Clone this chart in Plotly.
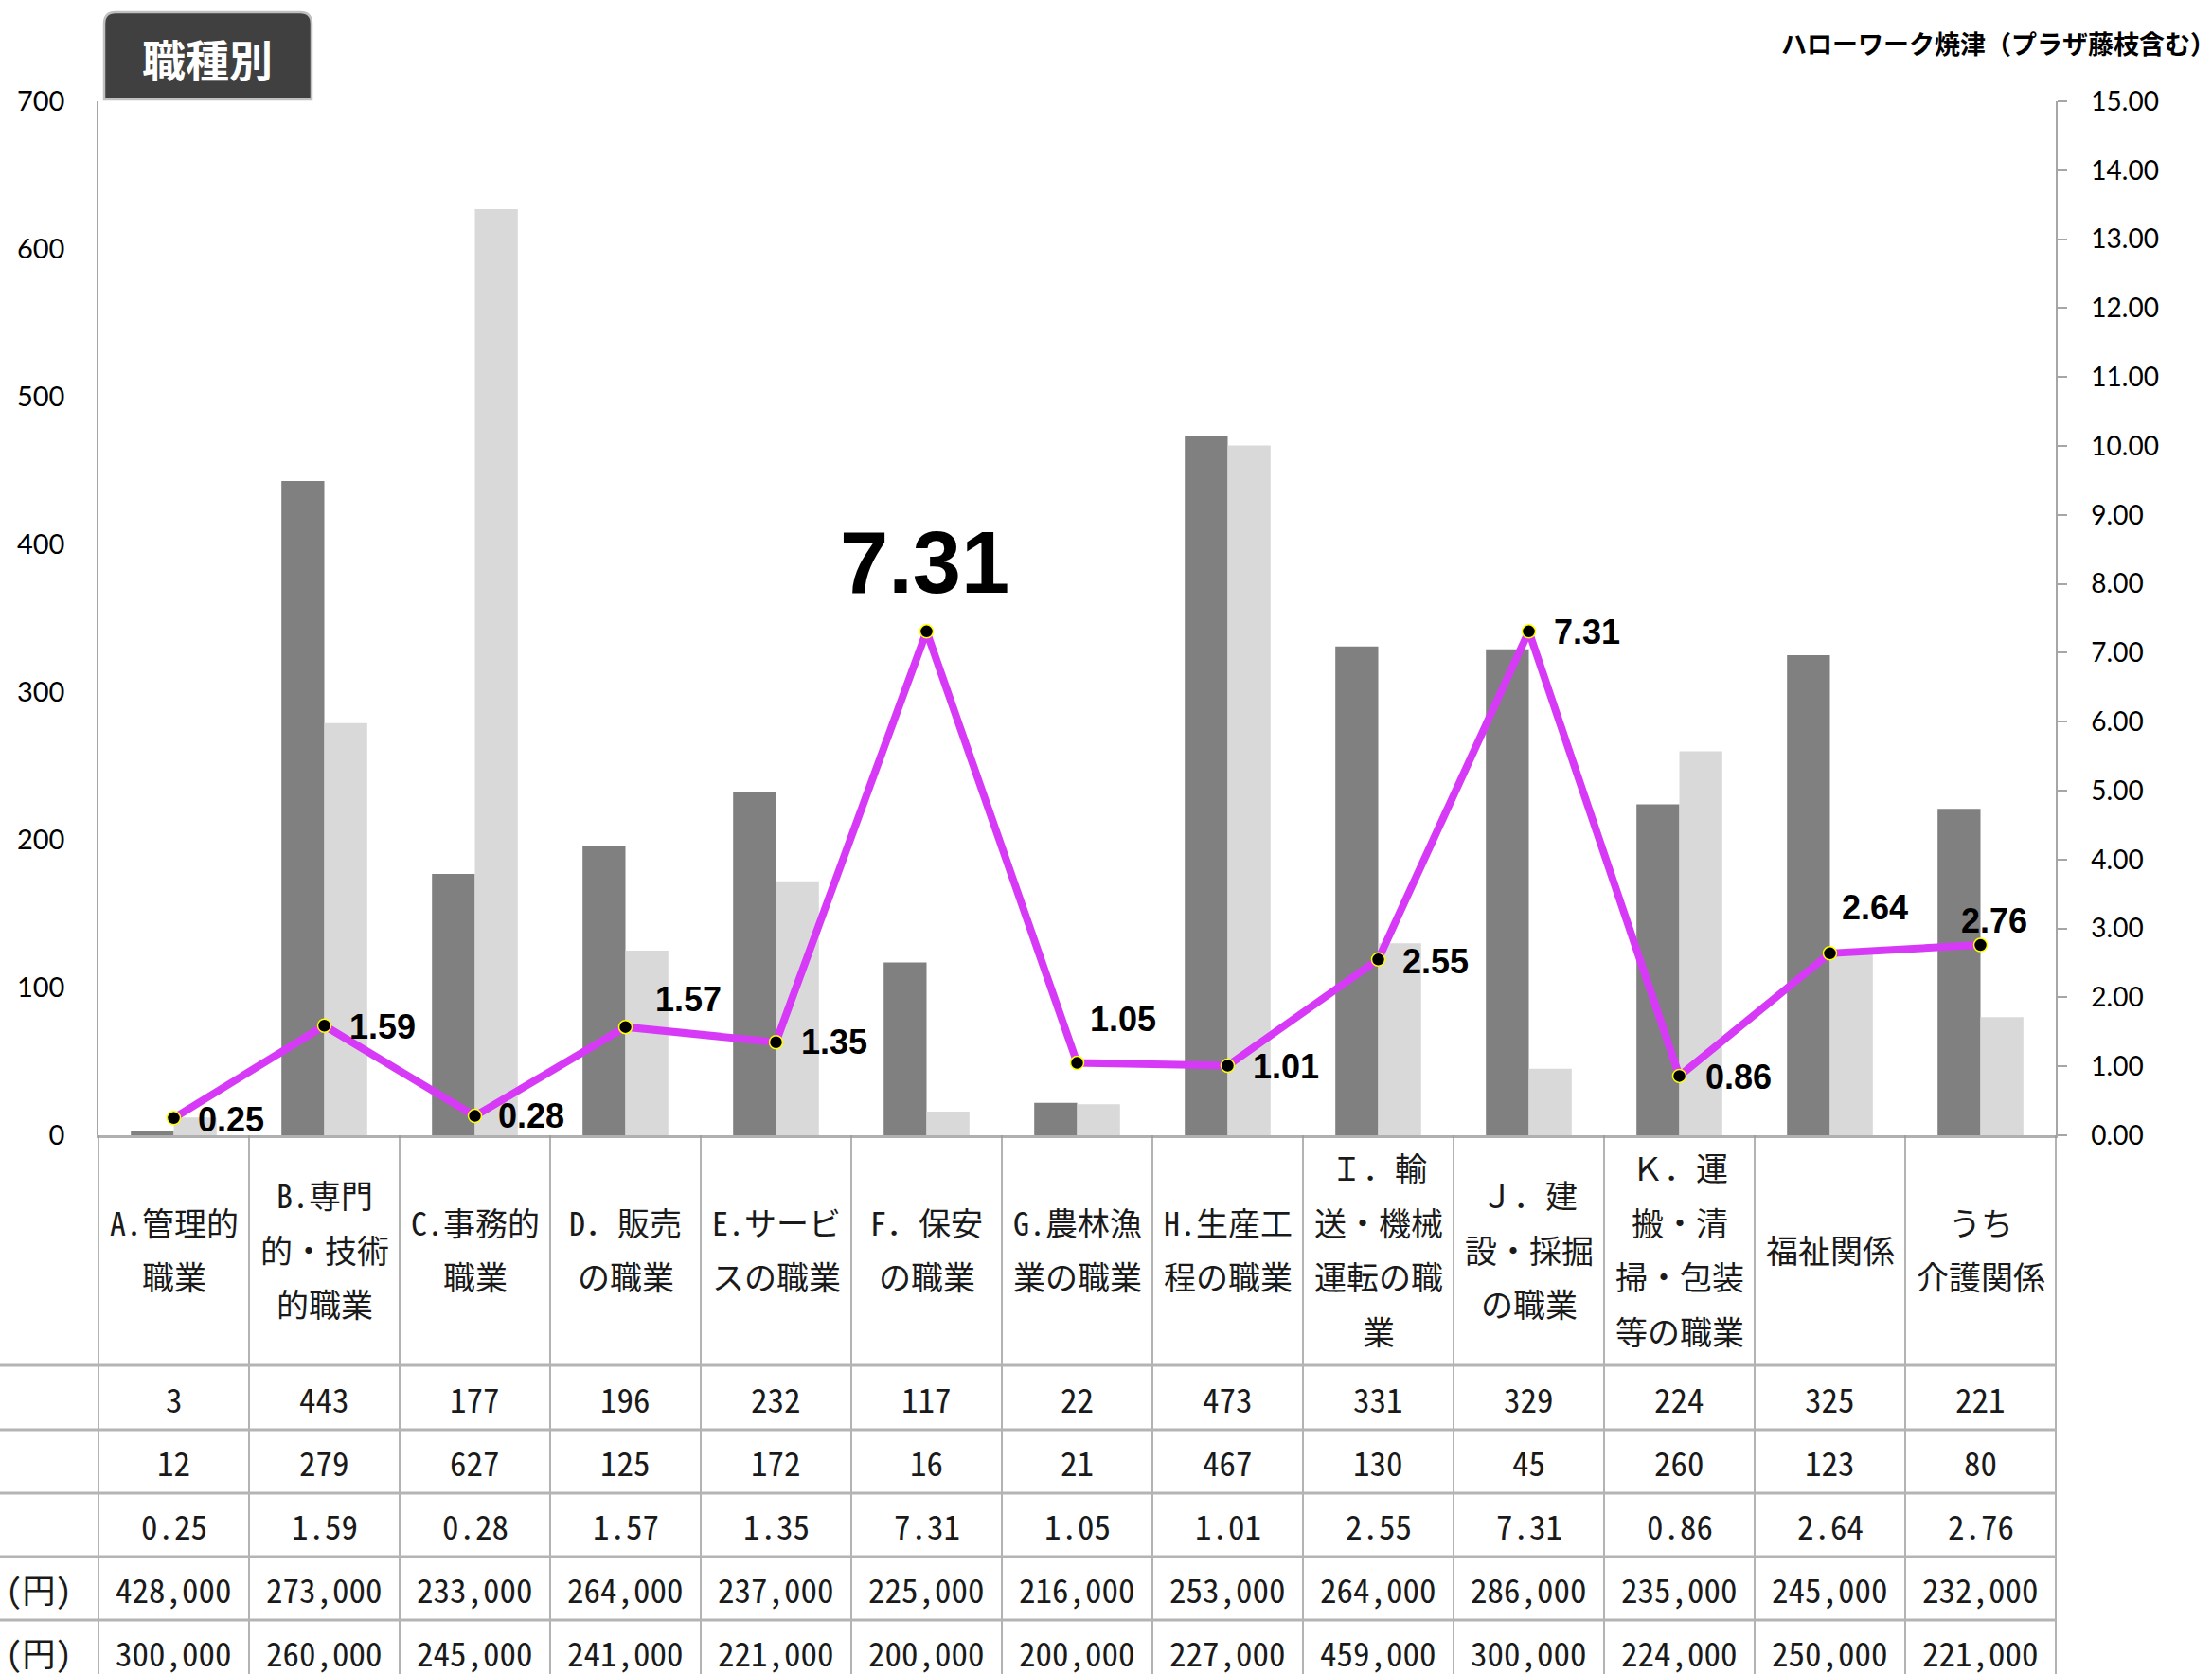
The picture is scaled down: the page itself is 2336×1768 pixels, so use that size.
import plotly.graph_objects as go

# ---------------- data ----------------
categories = ["A.管理的職業", "B.専門的・技術的職業", "C.事務的職業", "D．販売の職業",
              "E.サービスの職業", "F．保安の職業", "G.農林漁業の職業", "H.生産工程の職業",
              "Ｉ．輸送・機械運転の職業", "Ｊ．建設・採掘の職業", "Ｋ．運搬・清掃・包装等の職業",
              "福祉関係", "うち介護関係"]
header_lines = [["A.管理的", "職業"], ["B.専門", "的・技術", "的職業"], ["C.事務的", "職業"],
                ["D．販売", "の職業"], ["E.サービ", "スの職業"], ["F．保安", "の職業"],
                ["G.農林漁", "業の職業"], ["H.生産工", "程の職業"],
                ["Ｉ．輸", "送・機械", "運転の職", "業"], ["Ｊ．建", "設・採掘", "の職業"],
                ["Ｋ．運", "搬・清", "掃・包装", "等の職業"], ["福祉関係"], ["うち", "介護関係"]]
job_offers = [3, 443, 177, 196, 232, 117, 22, 473, 331, 329, 224, 325, 221]
job_seekers = [12, 279, 627, 125, 172, 16, 21, 467, 130, 45, 260, 123, 80]
ratio = [0.25, 1.59, 0.28, 1.57, 1.35, 7.31, 1.05, 1.01, 2.55, 7.31, 0.86, 2.64, 2.76]
wage_offer = [428000, 273000, 233000, 264000, 237000, 225000, 216000, 253000, 264000,
              286000, 235000, 245000, 232000]
wage_seek = [300000, 260000, 245000, 241000, 221000, 200000, 200000, 227000, 459000,
             300000, 224000, 250000, 221000]
left_ticks = [0, 100, 200, 300, 400, 500, 600, 700]
right_ticks = [i for i in range(0, 16)]
title_text = "職種別"
area_text = "ハローワーク焼津（プラザ藤枝含む）"
unit_text = "(円)"

# ---------------- layout geometry (pixels) ----------------
W, H = 2336, 1768
L, R, T, B = 104, 2171, 107, 1199


def px_x(X):
    return (X - L) / (R - L)


def px_y(Y):
    return (B - Y) / (B - T)


CJK = "Noto Sans CJK JP"
MONO = "Noto Sans Mono CJK JP, Noto Sans CJK JP"
DARK = "#808080"
LIGHT = "#d9d9d9"
MAG = "#d63af7"

fig = go.Figure()
fig.add_trace(go.Bar(x=categories, y=job_offers, marker=dict(color=DARK, line=dict(width=0)),
                     name="求人数", yaxis="y"))
fig.add_trace(go.Bar(x=categories, y=job_seekers, marker=dict(color=LIGHT, line=dict(width=0)),
                     name="求職者数", yaxis="y"))
fig.add_trace(go.Scatter(x=categories, y=ratio, yaxis="y2", mode="lines+markers",
                         line=dict(color=MAG, width=8),
                         marker=dict(size=14, color="black", line=dict(color="#ffff00", width=1.5)),
                         name="倍率", cliponaxis=False))

annotations = []
shapes = []

# data labels for the ratio line: (xanchor, xshift, yshift, size)
label_style = [("left", 23, -2, 36), ("left", 24, -1, 36), ("left", 22, 0, 36),
               ("left", 29, 29, 36), ("left", 24, 0, 36), ("center", -2, 73, 92),
               ("left", 11, 46, 36), ("left", 24, -1, 36), ("left", 23, -2, 36),
               ("left", 24, -1, 36), ("left", 25, -1, 36), ("left", 10, 48, 36),
               ("left", -23, 26, 36)]
for c, v, st in zip(categories, ratio, label_style):
    annotations.append(dict(x=c, y=v, xref="x", yref="y2", text=f"<b>{v:.2f}</b>",
                            showarrow=False, xanchor=st[0], yanchor="middle",
                            xshift=st[1], yshift=st[2],
                            font=dict(family="Liberation Sans, Arial", size=st[3], color="black")))

# table header lines
pitch = 57.5
for c, lines in zip(categories, header_lines):
    n = len(lines)
    for k, t in enumerate(lines):
        yy = 1319 + (k - (n - 1) / 2) * pitch
        annotations.append(dict(x=c, y=px_y(yy), xref="x", yref="paper", text=t,
                                showarrow=False, xanchor="center", yanchor="middle",
                                font=dict(family=MONO, size=34, color="#1a1a1a")))

# table rows
rows = [[str(v) for v in job_offers], [str(v) for v in job_seekers],
        [f"{v:.2f}" for v in ratio], [f"{v:,}" for v in wage_offer], [f"{v:,}" for v in wage_seek]]
row_centers = [1476, 1543, 1610, 1677, 1744]
for vals, yc in zip(rows, row_centers):
    for c, t in zip(categories, vals):
        annotations.append(dict(x=c, y=px_y(yc), xref="x", yref="paper", text=t,
                                showarrow=False, xanchor="center", yanchor="middle",
                                font=dict(family=MONO, size=35, color="#1a1a1a")))
for yc in row_centers[3:]:
    annotations.append(dict(x=px_x(78), y=px_y(yc), xref="paper", yref="paper", text=unit_text,
                            showarrow=False, xanchor="right", yanchor="middle",
                            font=dict(family=MONO, size=35, color="#1a1a1a")))

# table lines
ncat = len(categories)
for i in range(ncat + 1):
    X = L + i * (R - L) / ncat
    shapes.append(dict(type="line", xref="paper", yref="paper", x0=px_x(X), x1=px_x(X),
                       y0=px_y(B), y1=px_y(H + 20), line=dict(color="#9a9a9a", width=1.5)))
for Y in [1442, 1510, 1577, 1644, 1711]:
    shapes.append(dict(type="line", xref="paper", yref="paper", x0=px_x(0), x1=px_x(R),
                       y0=px_y(Y), y1=px_y(Y), line=dict(color="#b4b4b4", width=3)))

# title box with rounded top corners
bx0, bx1, by0, by1, r = 110, 329, 13, 105, 12
path = (f"M {px_x(bx0)},{px_y(by1)} L {px_x(bx0)},{px_y(by0 + r)} "
        f"Q {px_x(bx0)},{px_y(by0)} {px_x(bx0 + r)},{px_y(by0)} "
        f"L {px_x(bx1 - r)},{px_y(by0)} Q {px_x(bx1)},{px_y(by0)} {px_x(bx1)},{px_y(by0 + r)} "
        f"L {px_x(bx1)},{px_y(by1)} Z")
shapes.append(dict(type="path", xref="paper", yref="paper", path=path,
                   fillcolor="#404040", line=dict(color="#c0c0c0", width=2.5)))
annotations.append(dict(x=px_x(219), y=px_y(61), xref="paper", yref="paper",
                        text=f"<b>{title_text}</b>", showarrow=False,
                        xanchor="center", yanchor="middle",
                        font=dict(family=CJK, size=46, color="white")))
annotations.append(dict(x=px_x(2342), y=px_y(46), xref="paper", yref="paper",
                        text=f"<b>{area_text}</b>", showarrow=False,
                        xanchor="right", yanchor="middle",
                        font=dict(family=CJK, size=27, color="black")))

fig.update_layout(
    width=W, height=H,
    margin=dict(l=L, r=W - R, t=T, b=H - B, pad=0),
    paper_bgcolor="white", plot_bgcolor="white",
    barmode="group", bargap=0.43, bargroupgap=0,
    showlegend=False,
    xaxis=dict(range=[-0.5, len(categories) - 0.5], showticklabels=False, ticks="",
               showgrid=False, showline=True,
               linecolor="#b0b0b0", linewidth=2.5, zeroline=False, fixedrange=True),
    yaxis=dict(range=[0, 700], tickvals=left_ticks, ticks="", showgrid=False, zeroline=False,
               showline=True, linecolor="#a6a6a6", linewidth=1.5, ticklabelstandoff=28,
               tickfont=dict(family="Lato", size=29, color="black")),
    yaxis2=dict(range=[0, 15], tickvals=right_ticks, tickformat=".2f", overlaying="y",
                side="right", showgrid=False, zeroline=False, showline=True,
                linecolor="#a6a6a6", linewidth=1.5, ticks="outside", ticklen=10,
                tickcolor="#a6a6a6", tickwidth=1.5, ticklabelstandoff=20,
                tickfont=dict(family="Lato", size=28, color="black")),
    annotations=annotations, shapes=shapes,
)

fig.write_html("out.html", config={"displayModeBar": False},
               post_script="document.body.style.margin='0px';")
